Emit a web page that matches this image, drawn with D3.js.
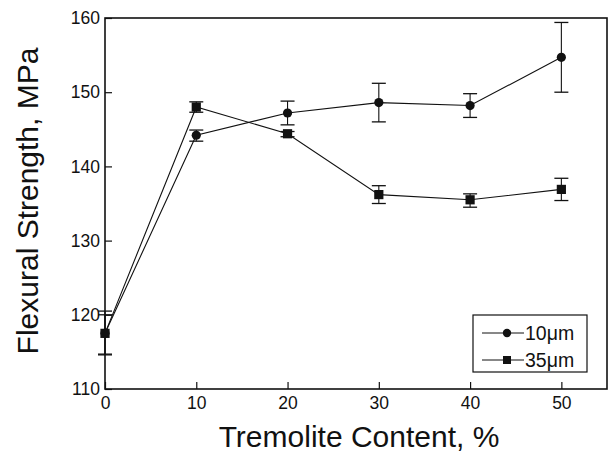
<!DOCTYPE html>
<html><head><meta charset="utf-8">
<script src="https://cdn.jsdelivr.net/npm/d3@7"></script>
<style>body{margin:0;background:#fff}svg{display:block}</style>
</head><body>
<svg id="c" width="610" height="455"></svg>
<script>
const content = [0, 10, 20, 30, 40, 50];
const s10 = [117.5, 144.2, 147.2, 148.6, 148.2, 154.7];
const s10Hi = [120.5, 144.9, 148.8, 151.2, 149.8, 159.4];
const s10Lo = [114.6, 143.4, 145.6, 146.0, 146.6, 150.0];
const s35 = [117.5, 148.0, 144.4, 136.2, 135.5, 136.9];
const s35Hi = [120.0, 148.7, 144.7, 137.4, 136.3, 138.4];
const s35Lo = [114.7, 147.3, 144.0, 135.0, 134.5, 135.4];
const xTicks = [0, 10, 20, 30, 40, 50];
const yTicks = [110, 120, 130, 140, 150, 160];
const seriesNames = ["10\u03BCm", "35\u03BCm"];

const FONT = "'Liberation Sans', Arial, sans-serif";
const svg = d3.select("#c");
const L = 105, R = 607, T = 18, B = 389;
const x = d3.scaleLinear().domain([0, 55]).range([L, R]);
const y = d3.scaleLinear().domain([110, 160]).range([B, T]);
const col = "#111";

// frame
svg.append("rect").attr("x", L).attr("y", T).attr("width", R - L).attr("height", B - T)
  .attr("fill", "none").attr("stroke", col).attr("stroke-width", 1.6);

// axes
const xa = svg.append("g").attr("transform", `translate(0,${B})`)
  .call(d3.axisBottom(x).tickValues(xTicks).tickSizeInner(-7).tickSizeOuter(0).tickPadding(8));
const ya = svg.append("g").attr("transform", `translate(${L},0)`)
  .call(d3.axisLeft(y).tickValues(yTicks).tickSizeInner(-7).tickSizeOuter(0).tickPadding(5));
[xa, ya].forEach(g => {
  g.attr("font-size", null).attr("font-family", null);
  g.select(".domain").remove();
  g.selectAll("line").attr("stroke", col).attr("stroke-width", 1.2);
  g.selectAll("text").style("font-family", FONT).style("font-size", "17.5px").attr("fill", col);
});

// axis titles
svg.append("text").attr("x", 359).attr("y", 447).attr("text-anchor", "middle")
  .style("font-family", FONT).style("font-size", "30px").attr("fill", col)
  .text("Tremolite Content, %");
svg.append("text").attr("transform", "translate(38,201) rotate(-90)").attr("text-anchor", "middle")
  .style("font-family", FONT).style("font-size", "30px").attr("fill", col)
  .text("Flexural Strength, MPa");

const line = d3.line().x(d => x(d[0])).y(d => y(d[1]));
function drawSeries(vals, hi, lo, shape) {
  const pts = content.map((c, i) => [c, vals[i]]);
  svg.append("path").attr("d", line(pts)).attr("fill", "none").attr("stroke", col).attr("stroke-width", 1.1);
  const g = svg.append("g");
  content.forEach((c, i) => {
    const cx = x(c);
    g.append("line").attr("x1", cx).attr("x2", cx).attr("y1", y(hi[i])).attr("y2", y(lo[i]))
      .attr("stroke", col).attr("stroke-width", 1.1);
    [hi[i], lo[i]].forEach(v => g.append("line").attr("x1", cx - 7).attr("x2", cx + 7)
      .attr("y1", y(v)).attr("y2", y(v)).attr("stroke", col).attr("stroke-width", 1.3));
  });
  content.forEach((c, i) => {
    if (shape === "circle") g.append("circle").attr("cx", x(c)).attr("cy", y(vals[i])).attr("r", 4.6).attr("fill", col);
    else g.append("rect").attr("x", x(c) - 4.6).attr("y", y(vals[i]) - 4.6).attr("width", 9.2).attr("height", 9.2).attr("fill", col);
  });
}
drawSeries(s10, s10Hi, s10Lo, "circle");
drawSeries(s35, s35Hi, s35Lo, "square");

// legend
const lg = svg.append("g");
lg.append("rect").attr("x", 473).attr("y", 315).attr("width", 114).attr("height", 57)
  .attr("fill", "#fff").attr("stroke", col).attr("stroke-width", 1.2);
seriesNames.forEach((name, i) => {
  const yy = 333 + i * 27;
  lg.append("line").attr("x1", 482).attr("x2", 524).attr("y1", yy).attr("y2", yy).attr("stroke", col).attr("stroke-width", 1);
  if (i === 0) lg.append("circle").attr("cx", 507).attr("cy", yy).attr("r", 4.2).attr("fill", col);
  else lg.append("rect").attr("x", 503).attr("y", yy - 4).attr("width", 8).attr("height", 8).attr("fill", col);
  lg.append("text").attr("x", 525).attr("y", yy + 7).style("font-family", FONT)
    .style("font-size", "19.5px").attr("fill", col).text(name);
});
</script>
</body></html>
